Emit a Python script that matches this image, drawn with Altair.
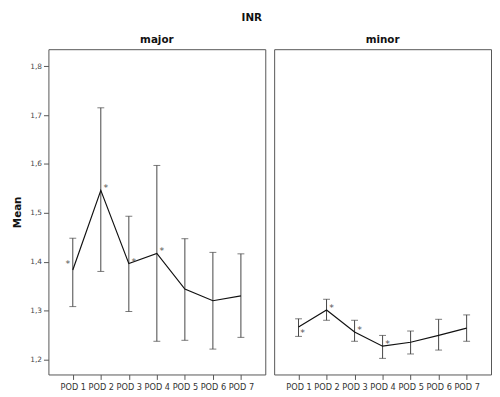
import altair as alt
import pandas as pd

pods = ["POD 1", "POD 2", "POD 3", "POD 4", "POD 5", "POD 6", "POD 7"]

major_mean = [1.383, 1.546, 1.396, 1.417, 1.344, 1.320, 1.330]
major_lo = [1.308, 1.380, 1.298, 1.237, 1.239, 1.221, 1.245]
major_hi = [1.448, 1.715, 1.493, 1.597, 1.447, 1.419, 1.416]
major_star = ["L", "R", "R", "R", "", "", ""]

minor_mean = [1.266, 1.301, 1.256, 1.227, 1.235, 1.249, 1.264]
minor_lo = [1.247, 1.280, 1.237, 1.202, 1.211, 1.219, 1.237]
minor_hi = [1.283, 1.323, 1.280, 1.249, 1.258, 1.282, 1.291]
minor_star = ["RB", "R", "R", "R", "", "", ""]

y_ticks = [1.2, 1.3, 1.4, 1.5, 1.6, 1.7, 1.8]
Y_DOMAIN = [1.169, 1.835]

FONT = "DejaVu Sans"


def panel(name, mean, lo, hi, star, show_y):
    df = pd.DataFrame({"pod": pods, "mean": mean, "lo": lo, "hi": hi, "star": star})
    x = alt.X(
        "pod:O",
        sort=pods,
        scale=alt.Scale(type="point", padding=0.87),
        axis=alt.Axis(
            title=None,
            labelAngle=0,
            labelFontSize=8.3,
            labelColor="#333",
            labelPadding=3,
            tickSize=5,
            tickColor="#555",
            domain=False,
            labelOverlap=False,
        ),
    )
    if show_y:
        yaxis = alt.Axis(
            values=y_ticks,
            labelExpr="replace(format(datum.value, '.1f'), '.', ',')",
            labelFontSize=7.5,
            labelColor="#444",
            labelPadding=2,
            tickSize=5,
            tickColor="#555",
            domain=False,
            grid=False,
            title="Mean",
            titleFontSize=10.5,
            titleFontWeight="bold",
            titleColor="#111",
            titlePadding=7.5,
        )
    else:
        yaxis = None
    yscale = alt.Scale(domain=Y_DOMAIN, nice=False, zero=False)
    base = alt.Chart(df)
    bars = base.mark_rule(color="#444", strokeWidth=1).encode(
        x=x, y=alt.Y("lo:Q", scale=yscale, axis=yaxis), y2="hi:Q"
    )
    cap_lo = base.mark_tick(color="#444", size=7, thickness=1, orient="horizontal").encode(
        x=x, y=alt.Y("lo:Q", scale=yscale)
    )
    cap_hi = base.mark_tick(color="#444", size=7, thickness=1, orient="horizontal").encode(
        x=x, y=alt.Y("hi:Q", scale=yscale)
    )
    line = base.mark_line(color="#111", strokeWidth=1.2).encode(
        x=x, y=alt.Y("mean:Q", scale=yscale)
    )
    star_l = base.transform_filter(alt.datum.star == "L").mark_text(
        text="*", fontSize=9.5, color="#555", dx=-5, dy=-6
    ).encode(x=x, y=alt.Y("mean:Q", scale=yscale))
    star_r = base.transform_filter(alt.datum.star == "R").mark_text(
        text="*", fontSize=9.5, color="#555", dx=5, dy=-2
    ).encode(x=x, y=alt.Y("mean:Q", scale=yscale))
    star_rb = base.transform_filter(alt.datum.star == "RB").mark_text(
        text="*", fontSize=9.5, color="#555", dx=4, dy=6
    ).encode(x=x, y=alt.Y("mean:Q", scale=yscale))
    return alt.layer(bars, cap_lo, cap_hi, line, star_l, star_r, star_rb).properties(
        width=220,
        height=330,
        title=alt.TitleParams(name, fontSize=10.5, fontWeight="bold", color="#111", offset=4),
    )


left = panel("major", major_mean, major_lo, major_hi, major_star, True)
right = panel("minor", minor_mean, minor_lo, minor_hi, minor_star, False)

chart = (
    alt.hconcat(left, right, spacing=7)
    .properties(
        title=alt.TitleParams("INR", fontSize=10.5, fontWeight="bold", color="#111", anchor="middle", offset=11),
        padding={"left": 4, "top": 2, "right": 0, "bottom": 0},
    )
    .configure(font=FONT)
    .configure_view(stroke="#555", strokeWidth=1)
)

chart.save("out.html", embed_options={"renderer": "svg", "actions": False})
